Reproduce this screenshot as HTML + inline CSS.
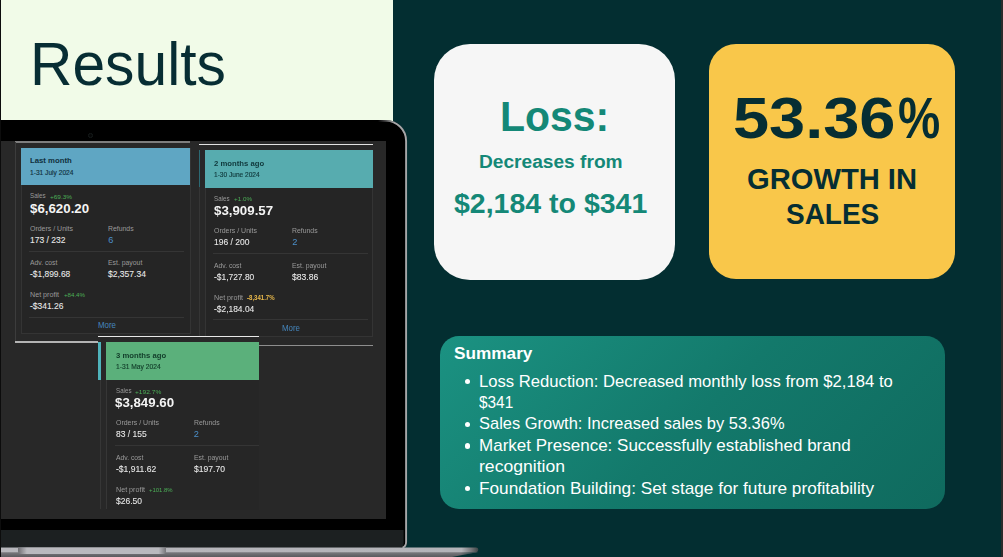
<!DOCTYPE html>
<html><head><meta charset="utf-8"><style>
*{margin:0;padding:0;box-sizing:border-box}
html,body{width:1003px;height:557px;overflow:hidden;background:#032e31;font-family:"Liberation Sans",sans-serif}
.abs{position:absolute}
#left{left:0;top:0;width:393px;height:121px;background:#f1fbe8}
#lbar{left:0;top:0;width:1px;height:557px;background:#0c0c0c}
#rbar{left:1001px;top:0;width:2px;height:557px;background:#2b2b2b}
#title{left:30.2px;top:27.5px;font-size:61.03px;line-height:1.2;color:#072d33;white-space:nowrap;transform-origin:0 0;transform:scaleX(.963)}
/* laptop */
#lid{left:-60px;top:120.1px;width:466.8px;height:427.6px;background:#000;border-right:1.7px solid #a6a6a8;border-radius:0 19px 5px 0;overflow:hidden}
#cam{left:88.4px;top:133px;width:4.6px;height:4.6px;border-radius:50%;border:1px solid #161b1b;background:#050606}
#screen{left:0;top:141.3px;width:386px;height:377.7px;background:#282828;overflow:hidden}
#chin{left:60px;top:409.9px;width:406px;height:18px;background:#1c2021}
#base{left:0;top:545px;width:490px;height:12px}
/* right cards */
#c1{left:434px;top:43.5px;width:241px;height:236px;background:#f6f6f6;border-radius:36px}
#c2{left:709px;top:43.5px;width:245.5px;height:235px;background:#f9c74a;border-radius:27px}
.t{position:absolute;white-space:nowrap;font-weight:bold;text-align:center}
#sum{left:439.5px;top:336px;width:505px;height:173px;border-radius:19px;background:linear-gradient(135deg,#1b9282 0%,#13796b 50%,#0f6a5e 100%)}

.tx{position:absolute;white-space:nowrap;line-height:1.2;transform-origin:0 0}
.b{font-weight:bold}
.teal{color:#148877}
.dk{color:#062e33}
.wh{color:#fff}
.dot{position:absolute;width:5.4px;height:5.4px;border-radius:50%;background:#fff;left:464.7px}

#screen .hdr,#screen .ln,#screen .bx,#screen .s{position:absolute}
#screen .bx{border:1px solid #343434;background:#252525}
#screen .s{white-space:nowrap;line-height:1.2;transform-origin:0 0}
#scr{position:absolute;left:0;top:.7px;width:386px;height:377px;filter:blur(.5px)}
.hd{font-size:7.9px;font-weight:bold;color:#0f2d38}
.dt{font-size:7.2px;font-weight:normal;color:#15323d;-webkit-text-stroke:.15px currentColor}
.lb{font-size:7.1px;font-weight:normal;color:#9a9a9a}
.pc{font-size:6.2px;font-weight:normal;color:#4cae57}
.pcy{font-size:6.4px;font-weight:bold;color:#e8b84a}
.big{font-size:13.2px;font-weight:bold;color:#f4f4f4}
.val{font-size:9.2px;font-weight:normal;color:#e9e9e9;-webkit-text-stroke:.08px #eee}
.lnk{font-size:9.2px;font-weight:normal;color:#4b8fc9}
.more{font-size:8.2px;font-weight:normal;color:#4586bd}</style></head><body>
<div class="abs" id="left"></div>
<div class="abs" id="title">Results</div>
<svg class="abs" style="left:0;top:110px" width="420" height="447" viewBox="0 110 420 447">
<defs><linearGradient id="rg" gradientUnits="userSpaceOnUse" x1="378" y1="0" x2="394" y2="0"><stop offset="0" stop-color="#9c9c9e" stop-opacity="0"/><stop offset="1" stop-color="#a6a6a8"/></linearGradient></defs>
<path d="M-5 120 H386 A21 21 0 0 1 407 141 V542 Q407 547.8 401.5 547.8 H-5Z" fill="#000"/>
<path d="M-5 530 H403.6 V543 Q403.6 547.8 399 547.8 H-5Z" fill="#1c2021"/>
<path d="M370 120.9 H386 A20.1 20.1 0 0 1 406.1 141 V542 Q406.1 546.5 402.5 547.6" fill="none" stroke="url(#rg)" stroke-width="1.9"/>
</svg><div class="abs" id="cam"></div>
<div class="abs" id="screen"><div id="scr">
<div class="ln" style="left:15px;top:-.7px;width:175.2px;height:1.6px;background:#7e7e7e"></div>
<div class="ln" style="left:15px;top:0;width:1px;height:200px;background:#3c3c3c"></div>
<div class="bx" style="left:20.5px;top:5.7px;width:170px;height:186.7px"></div>
<div class="ln" style="left:15px;top:199.5px;width:83px;height:1.3px;background:#b4b4b4"></div>
<div class="ln" style="left:29px;top:108.6px;width:155px;height:1px;background:#353535"></div>
<div class="ln" style="left:29px;top:174.7px;width:155px;height:1px;background:#353535"></div>

<div class="ln" style="left:199px;top:1.8px;width:174px;height:1.4px;background:#e2e2e2"></div>
<div class="ln" style="left:199px;top:8px;width:1.1px;height:37.5px;background:#2c6973"></div>
<div class="ln" style="left:199px;top:45px;width:1px;height:150px;background:#353535"></div>
<div class="bx" style="left:204.5px;top:8px;width:168.5px;height:187.4px"></div>
<div class="ln" style="left:259px;top:202.6px;width:114px;height:1px;background:#8e8e8e"></div>
<div class="ln" style="left:213px;top:110.9px;width:155px;height:1px;background:#353535"></div>
<div class="ln" style="left:213px;top:177px;width:155px;height:1px;background:#353535"></div>

<div class="ln" style="left:106px;top:238px;width:153px;height:130px;background:#262626"></div>
<div class="ln" style="left:98px;top:193.8px;width:161px;height:1.5px;background:#e8e8e8"></div>
<div class="ln" style="left:98px;top:200px;width:2.6px;height:38px;background:#4fb3bb"></div>
<div class="ln" style="left:99.5px;top:238px;width:1px;height:129px;background:#363636"></div>
<div class="ln" style="left:105.5px;top:238px;width:1px;height:129px;background:#363636"></div>
<div class="ln" style="left:115px;top:303.4px;width:144px;height:1px;background:#353535"></div>
<div class="hdr" style="left:20.5px;top:5.7px;width:169.5px;height:37.4px;background:#5fa6c3"></div>
<div class="s hd" style="left:30.0px;top:14.4px;transform:scaleX(0.982);color:#10303d">Last month</div>
<div class="s dt" style="left:30.0px;top:26.6px;transform:scaleX(0.921);color:#10303d">1-31 July 2024</div>
<div class="s lb" style="left:30.0px;top:50.4px;transform:scaleX(0.873)">Sales</div>
<div class="s pc" style="left:49.7px;top:50.9px;transform:scaleX(1.038)">+69.3%</div>
<div class="s big" style="left:29.8px;top:58.7px;transform:scaleX(1.008)">$6,620.20</div>
<div class="s lb" style="left:30.0px;top:82.7px;transform:scaleX(0.982)">Orders / Units</div>
<div class="s lb" style="left:108.2px;top:82.7px;transform:scaleX(0.968)">Refunds</div>
<div class="s val" style="left:30.0px;top:92.7px;transform:scaleX(0.925)">173 / 232</div>
<div class="s lnk" style="left:108.2px;top:92.7px;transform:scaleX(1.000)">6</div>
<div class="s lb" style="left:30.0px;top:117.1px;transform:scaleX(0.956)">Adv. cost</div>
<div class="s lb" style="left:108.2px;top:117.1px;transform:scaleX(0.966)">Est. payout</div>
<div class="s val" style="left:30.0px;top:127.3px;transform:scaleX(0.916)">-$1,899.68</div>
<div class="s val" style="left:108.2px;top:127.3px;transform:scaleX(0.928)">$2,357.34</div>
<div class="s lb" style="left:30.0px;top:149.0px;transform:scaleX(1.007)">Net profit</div>
<div class="s pc" style="left:63.5px;top:149.5px;transform:scaleX(0.990)">+84.4%</div>
<div class="s val" style="left:30.0px;top:159.0px;transform:scaleX(0.920)">-$341.26</div>
<div class="s more" style="left:98.0px;top:179.2px;transform:scaleX(0.963)">More</div>
<div class="hdr" style="left:204.5px;top:7.9px;width:168.5px;height:37.9px;background:#57acaf"></div>
<div class="s hd" style="left:214.0px;top:17.0px;transform:scaleX(0.978);color:#10383b">2 months ago</div>
<div class="s dt" style="left:214.0px;top:29.2px;transform:scaleX(0.913);color:#10383b">1-30 June 2024</div>
<div class="s lb" style="left:214.0px;top:53.0px;transform:scaleX(0.873)">Sales</div>
<div class="s pc" style="left:233.7px;top:53.5px;transform:scaleX(1.014)">+1.0%</div>
<div class="s big" style="left:213.8px;top:61.3px;transform:scaleX(1.008)">$3,909.57</div>
<div class="s lb" style="left:214.0px;top:85.3px;transform:scaleX(0.982)">Orders / Units</div>
<div class="s lb" style="left:292.2px;top:85.3px;transform:scaleX(0.968)">Refunds</div>
<div class="s val" style="left:214.0px;top:95.3px;transform:scaleX(0.925)">196 / 200</div>
<div class="s lnk" style="left:292.2px;top:95.3px;transform:scaleX(1.000)">2</div>
<div class="s lb" style="left:214.0px;top:119.7px;transform:scaleX(0.956)">Adv. cost</div>
<div class="s lb" style="left:292.2px;top:119.7px;transform:scaleX(0.966)">Est. payout</div>
<div class="s val" style="left:214.0px;top:129.9px;transform:scaleX(0.916)">-$1,727.80</div>
<div class="s val" style="left:292.2px;top:129.9px;transform:scaleX(0.935)">$83.86</div>
<div class="s lb" style="left:214.0px;top:151.6px;transform:scaleX(1.007)">Net profit</div>
<div class="s pcy" style="left:247.0px;top:151.9px;transform:scaleX(0.946)">-8,341.7%</div>
<div class="s val" style="left:214.0px;top:161.6px;transform:scaleX(0.916)">-$2,184.04</div>
<div class="s more" style="left:282.0px;top:181.8px;transform:scaleX(0.963)">More</div>
<div class="hdr" style="left:106px;top:200.0px;width:153px;height:38px;background:#5bb07b"></div>
<div class="s hd" style="left:115.5px;top:209.1px;transform:scaleX(0.978);color:#123d2a">3 months ago</div>
<div class="s dt" style="left:115.5px;top:221.3px;transform:scaleX(0.933);color:#123d2a">1-31 May 2024</div>
<div class="s lb" style="left:115.5px;top:245.1px;transform:scaleX(0.873)">Sales</div>
<div class="s pc" style="left:135.2px;top:245.6px;transform:scaleX(1.067)">+192.7%</div>
<div class="s big" style="left:115.3px;top:253.4px;transform:scaleX(1.008)">$3,849.60</div>
<div class="s lb" style="left:115.5px;top:277.4px;transform:scaleX(0.982)">Orders / Units</div>
<div class="s lb" style="left:193.7px;top:277.4px;transform:scaleX(0.968)">Refunds</div>
<div class="s val" style="left:115.5px;top:287.4px;transform:scaleX(0.926)">83 / 155</div>
<div class="s lnk" style="left:193.7px;top:287.4px;transform:scaleX(1.000)">2</div>
<div class="s lb" style="left:115.5px;top:311.8px;transform:scaleX(0.956)">Adv. cost</div>
<div class="s lb" style="left:193.7px;top:311.8px;transform:scaleX(0.966)">Est. payout</div>
<div class="s val" style="left:115.5px;top:322.0px;transform:scaleX(0.931)">-$1,911.62</div>
<div class="s val" style="left:193.7px;top:322.0px;transform:scaleX(0.932)">$197.70</div>
<div class="s lb" style="left:115.5px;top:343.7px;transform:scaleX(1.007)">Net profit</div>
<div class="s pc" style="left:148.5px;top:344.2px;transform:scaleX(0.961)">+101.8%</div>
<div class="s val" style="left:115.5px;top:353.7px;transform:scaleX(0.924)">$26.50</div></div></div>
<svg class="abs" id="base" width="490" height="12" viewBox="0 545 490 12">
<defs>
<linearGradient id="g1" x1="0" x2="1" y1="0" y2="0"><stop offset="0" stop-color="#b7b7bc"/><stop offset=".965" stop-color="#b4b4b9"/><stop offset=".985" stop-color="#77777a"/><stop offset="1" stop-color="#3c4446"/></linearGradient>
<linearGradient id="g2" x1="0" x2="0" y1="0" y2="1"><stop offset="0" stop-color="#7c7c80"/><stop offset="1" stop-color="#5a5a5e"/></linearGradient>
<linearGradient id="g3" x1="0" x2="1" y1="0" y2="0"><stop offset="0" stop-color="#6f6f73"/><stop offset=".06" stop-color="#b9b9be"/><stop offset=".95" stop-color="#b9b9be"/><stop offset="1" stop-color="#77777b"/></linearGradient>
<linearGradient id="g4" x1="0" x2="1" y1="0" y2="0"><stop offset="0" stop-color="#fff" stop-opacity="0"/><stop offset=".9" stop-color="#032e31" stop-opacity="0"/><stop offset="1" stop-color="#032e31" stop-opacity=".9"/></linearGradient>
</defs>
<path d="M0 552 H478 L452 557 H0Z" fill="url(#g2)"/>
<path d="M300 552 H478 L452 557 H300Z" fill="url(#g4)"/>
<path d="M0 547.6 H476 Q478.3 547.6 478.3 549.8 Q478.3 552.2 476 552.2 H0Z" fill="url(#g1)"/>
<path d="M18 547.6 H166 V552 Q166 554 164 554 H21 Q18 554 18 551Z" fill="url(#g3)"/>
</svg>
<div class="abs" id="c1"></div>
<div class="abs" id="c2"></div>
<div class="abs" id="sum"></div>

<div class="tx b teal" style="left:500.4px;top:90.8px;font-size:43.33px;transform:scaleX(.945)">Loss:</div>
<div class="tx b teal" style="left:479.2px;top:150.5px;font-size:18.7px;transform:scaleX(1.024)">Decreases from</div>
<div class="tx b teal" style="left:453.8px;top:186.7px;font-size:27.86px;transform:scaleX(1.023)">$2,184 to $341</div>
<div class="tx b dk" style="left:733.4px;top:85.2px;font-size:56.6px;transform:scaleX(1.147)">53.36</div>
<div class="tx b dk" style="left:897.6px;top:85.2px;font-size:56.6px;transform:scaleX(.839)">%</div>
<div class="tx b dk" style="left:746.5px;top:161.1px;font-size:29.6px;transform:scaleX(.985)">GROWTH IN</div>
<div class="tx b dk" style="left:785.7px;top:195.6px;font-size:29.6px;transform:scaleX(.945)">SALES</div>
<div class="tx b wh" style="left:453.5px;top:344.3px;font-size:16.06px;transform:scaleX(1.072)">Summary</div>
<div class="tx wh" style="left:478.7px;top:371.6px;font-size:16.38px;transform:scaleX(1.018)">Loss Reduction: Decreased monthly loss from $2,184 to</div>
<div class="tx wh" style="left:478.9px;top:393.0px;font-size:16.38px;transform:scaleX(.94)">$341</div>
<div class="tx wh" style="left:478.6px;top:414.4px;font-size:16.38px;transform:scaleX(1.006)">Sales Growth: Increased sales by 53.36%</div>
<div class="tx wh" style="left:478.7px;top:435.8px;font-size:16.38px;transform:scaleX(1.04)">Market Presence: Successfully established brand</div>
<div class="tx wh" style="left:478.6px;top:457.2px;font-size:16.38px;transform:scaleX(1.075)">recognition</div>
<div class="tx wh" style="left:478.7px;top:478.6px;font-size:16.38px;transform:scaleX(1.052)">Foundation Building: Set stage for future profitability</div>
<div class="dot" style="top:379.1px"></div>
<div class="dot" style="top:421.9px"></div>
<div class="dot" style="top:443.3px"></div>
<div class="dot" style="top:486.1px"></div>
<div class="abs" id="rbar"></div><div class="abs" id="lbar"></div>
</body></html>
